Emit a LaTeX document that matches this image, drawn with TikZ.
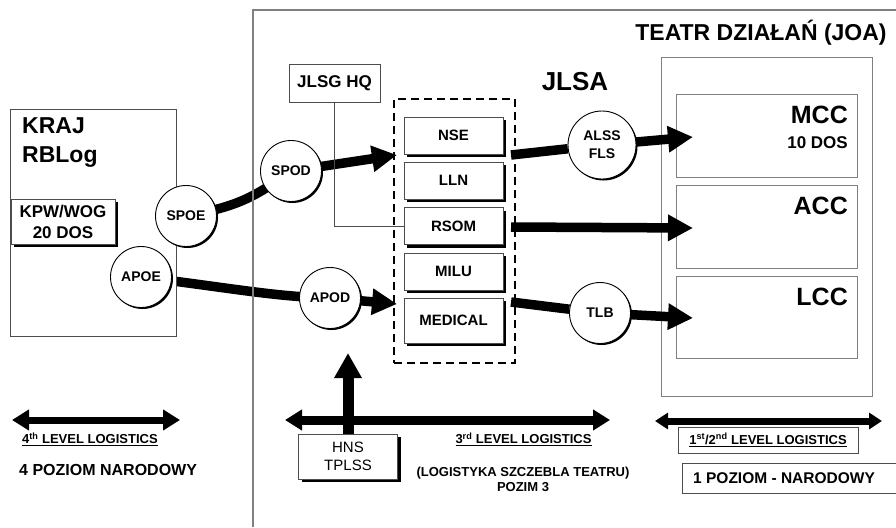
\documentclass[tikz,border=0pt]{standalone}
\usepackage{fontspec}
\setmainfont{Liberation Sans}
\usetikzlibrary{arrows.meta,shadows,calc}
\newcommand\fsz[2]{\fontsize{#1}{#2}\selectfont}
\definecolor{framegray}{gray}{0.5}
\definecolor{boxgray}{gray}{0.3}
\pgfdeclarelayer{bg}
\pgfsetlayers{bg,main}
\begin{document}
\begin{tikzpicture}[x=1pt,y=-1pt,
  frameline/.style={draw=framegray,line width=1.4pt},
  plainbox/.style={draw=boxgray,line width=0.9pt,fill=white,inner sep=0pt},
  shadowbox/.style={plainbox,drop shadow={shadow xshift=3pt,shadow yshift=-3pt,opacity=1,fill=black}},
  unitbox/.style={shadowbox,minimum width=99pt,minimum height=37pt,font=\fsz{15}{18}\bfseries},
  port/.style={circle,draw=black,line width=0.9pt,fill=white,minimum size=61pt,inner sep=0pt,
    font=\fsz{14}{18}\bfseries,
    drop shadow={shadow xshift=1.5pt,shadow yshift=-1.5pt,opacity=1,fill=black}},
  pipe/.style={line width=9.5pt},
  flow/.style={line width=9.5pt,-{Triangle[length=25pt,width=25pt]}},
  span/.style={line width=7pt,{Triangle[length=17pt,width=20pt]}-{Triangle[length=17pt,width=20pt]}},
  lbl/.style={inner sep=0pt,font=\bfseries},
  heading/.style={inner sep=0pt,font=\fsz{23}{29}\bfseries},
  cmd/.style={inner sep=0pt,anchor=east,font=\fsz{25}{30}\bfseries},
  smalllbl/.style={inner sep=0pt,font=\fsz{13}{15}\bfseries}
]
\useasboundingbox (0,0) rectangle (896,527);

% theatre frame (open to the right and bottom)
\draw[frameline] (253,527) -- (253,10) -- (896,10);

% ---- home nation ----
\node[plainbox,minimum width=166pt,minimum height=227pt] (kraj) at (93,222.5) {};
\node[heading,anchor=west,align=left] (krajlbl) at (22,143) {KRAJ\\RBLog};
\node[shadowbox,minimum width=104pt,minimum height=45pt,align=center,font=\fsz{17}{21}\bfseries]
  (kpw) at (63,221.5) {KPW/WOG\\20 DOS};

% ---- ports ----
\node[port] (spoe) at (186,216) {SPOE};
\node[port] (apoe) at (141,277) {APOE};
\node[port] (spod) at (291,171) {SPOD};
\node[port] (apod) at (330,298) {APOD};
\node[port,minimum size=68pt,align=center] (alss) at (602,145) {ALSS\\FLS};
\node[port] (tlb) at (600,313) {TLB};

% ---- JLSA ----
\node[plainbox,minimum width=91pt,minimum height=38pt,font=\fsz{17}{20}\bfseries] (jlsg) at (334.5,83) {JLSG HQ};
\node[inner sep=0pt,font=\fsz{26}{30}\bfseries] (jlsalbl) at (575,82) {JLSA};
\node[draw=black,line width=2.5pt,dash pattern=on 8pt off 5pt,minimum width=121pt,minimum height=264pt,inner sep=0pt]
  (unitframe) at (454.5,231) {};
\node[unitbox] (nse)  at (453.5,135.5) {NSE};
\node[unitbox] (lln)  at (453.5,180.5) {LLN};
\node[unitbox] (rsom) at (453.5,226)   {RSOM};
\node[unitbox] (milu) at (453.5,271.5) {MILU};
\node[unitbox,minimum height=45pt] (medical) at (453.5,320.5) {MEDICAL};
\draw[boxgray,line width=0.8pt] (jlsg.south) |- (rsom.west);

% ---- joint operations area ----
\node[heading] (teatr) at (761,33) {TEATR DZIAŁAŃ (JOA)};
\node[plainbox,draw=framegray,minimum width=211pt,minimum height=339pt] (joa) at (766.5,226.5) {};
\node[plainbox,draw=framegray,minimum width=181pt,minimum height=83pt] (mcc) at (766.5,135.5) {};
\node[plainbox,draw=framegray,minimum width=181pt,minimum height=83pt] (acc) at (766.5,226.5) {};
\node[plainbox,draw=framegray,minimum width=181pt,minimum height=82pt] (lcc) at (766.5,317) {};
\node[cmd] (mcclbl) at (848,115) {MCC};
\node[inner sep=0pt,anchor=east,font=\fsz{17}{20}\bfseries] (mccdos) at (848,143) {10 DOS};
\node[cmd] (acclbl) at (848,206) {ACC};
\node[cmd] (lcclbl) at (848,297) {LCC};

% ---- flow connectors ----
\coordinate (nseIn)   at (397,155);
\coordinate (medIn)   at (397,304);
\coordinate (nseOut)  at (511,155);
\coordinate (rsomOut) at (511,227);
\coordinate (medOut)  at (511,302);
\coordinate (mccIn)   at (693,137);
\coordinate (accIn)   at (693,228);
\coordinate (lccIn)   at (693,318);
\begin{pgfonlayer}{bg}
  \draw[pipe] (kpw.east) -- (spoe);
  \draw[pipe] (spoe.center) .. controls (240,206) and (256,196) .. (spod.center);
  \draw[flow] (spod) -- (nseIn);
  \draw[pipe] (kpw.south) .. controls (66,268) and (85,277) .. (apoe.center);
  \draw[pipe] (apoe.center) .. controls (225,287) and (275,297) .. (apod.center);
  \draw[flow] (apod) -- (medIn);
  \draw[pipe] (nseOut) -- (alss);
  \draw[pipe] (medOut) -- (tlb);
\end{pgfonlayer}
\draw[flow] (alss) -- (mccIn);
\draw[flow] (rsomOut) -- (accIn);
\draw[flow] (tlb) -- (lccIn);

% ---- logistics levels ----
\coordinate (l4a) at (12,420);  \coordinate (l4b) at (180,420);
\coordinate (l3a) at (285,420); \coordinate (l3b) at (610,420);
\coordinate (l1a) at (655,421); \coordinate (l1b) at (882,421);
\draw[span] (l4a) -- (l4b);
\draw[span,line width=9pt] (l3a) -- (l3b);
\draw[line width=7pt,{Triangle[length=13pt,width=16pt]}-{Triangle[length=13pt,width=16pt]}] (l1a) -- (l1b);

\node[smalllbl,anchor=west] (lvl4) at (22,439) {\underline{4\textsuperscript{th} LEVEL LOGISTICS}};
\node[lbl,anchor=west,font=\fsz{16}{18}\bfseries] (poz4) at (19,470) {4 POZIOM NARODOWY};

\node[shadowbox,minimum width=99pt,minimum height=45pt,align=center,font=\fsz{15}{18}] (hns) at (348,456.5) {HNS\\TPLSS};
\coordinate (hnsTip) at (348,353);
\draw[line width=11pt,-{Triangle[length=25pt,width=26pt]}] (hns.north) -- (hnsTip);

\node[smalllbl] (lvl3) at (523.5,439) {\underline{3\textsuperscript{rd} LEVEL LOGISTICS}};
\node[smalllbl,align=center] (poz3) at (523,479.5) {(LOGISTYKA SZCZEBLA TEATRU)\\POZIM 3};

\node[plainbox,minimum width=180pt,minimum height=26pt,font=\fsz{13}{15}\bfseries] (lvl12) at (768,440)
  {\underline{1\textsuperscript{st}/2\textsuperscript{nd} LEVEL LOGISTICS}};
\node[plainbox,minimum width=220pt,minimum height=30pt] (poz1box) at (792,478) {};
\node[lbl,anchor=west,font=\fsz{15.5}{18}\bfseries] (poz1) at (693,478) {1 POZIOM - NARODOWY};
\end{tikzpicture}
\end{document}
